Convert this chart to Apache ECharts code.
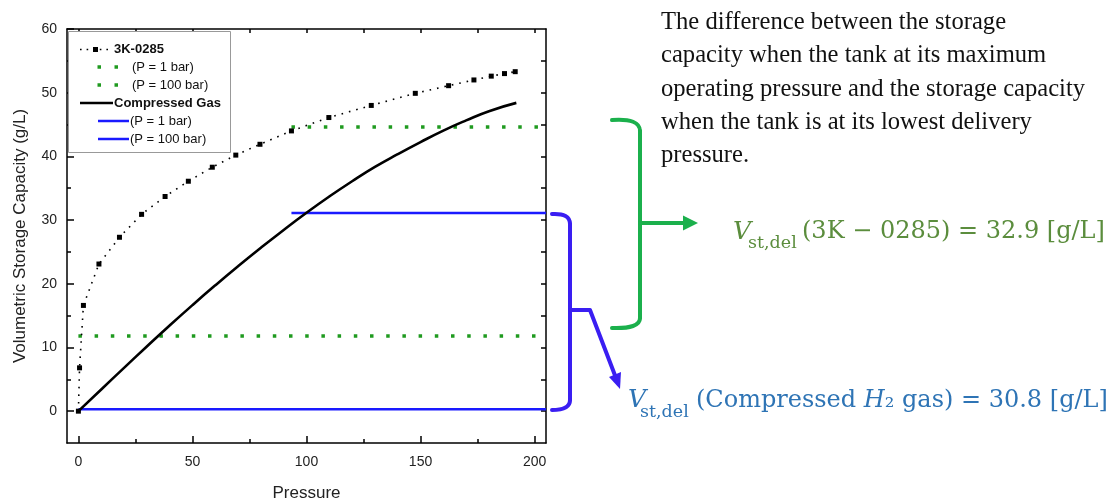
<!DOCTYPE html>
<html><head><meta charset="utf-8">
<script src="https://cdn.jsdelivr.net/npm/echarts@6/dist/echarts.min.js"></script>
<style>html,body{margin:0;padding:0;background:#fff}#c{width:1111px;height:501px}</style>
</head><body><div id="c"></div>
<script>
// ---- data ----
const pressure3K = [0, 0.5, 2.2, 9, 18, 27.7, 38, 48.2, 58.7, 69, 79.6, 93.4, 109.8, 128.4, 147.7, 162.3, 173.4, 181, 186.8, 191.5];
const capacity3K = [0, 6.8, 16.6, 23.1, 27.3, 30.9, 33.7, 36.1, 38.3, 40.2, 41.9, 44.0, 46.1, 48.0, 49.9, 51.1, 52.0, 52.6, 53.0, 53.3];
const pressureGas = [0, 10, 20, 30, 40, 50, 60, 70, 80, 90, 100, 110, 120, 130, 140, 150, 160, 170, 180, 192];
const capacityGas = [0, 3.4, 6.8, 10.15, 13.45, 16.65, 19.75, 22.75, 25.65, 28.45, 31.15, 33.7, 36.1, 38.35, 40.35, 42.25, 44.05, 45.65, 47.1, 48.4];
const greenRanges = [[0, 204], [93.4, 204]];      // pressure span of green dotted levels
const greenLevels = [11.8, 44.6];                  // 3K-0285 at P=1 bar / P=100 bar
const blueRanges = [[0, 205], [93.4, 205]];        // pressure span of blue levels
const blueLevels = [0.3, 31.1];                    // compressed gas at P=1 bar / P=100 bar
const xMajorTicks = [0, 50, 100, 150, 200];
const xMinorTicks = [25, 75, 125, 175];
const xAllTicks = [0, 25, 50, 75, 100, 125, 150, 175, 200];
const yMajorTicks = [0, 10, 20, 30, 40, 50, 60];
const yMinorTicks = [5, 15, 25, 35, 45, 55];
const yAllTicks = [0, 5, 10, 15, 20, 25, 30, 35, 40, 45, 50, 55];
const noteLines = [
  'The difference between the storage',
  'capacity when the tank at its maximum',
  'operating pressure and the storage capacity',
  'when the tank is at its lowest delivery',
  'pressure.'
];

const zip = (a, b) => a.map((v, i) => [v, b[i]]);
const SANS = '"Liberation Sans", Arial, sans-serif';
const SERIF = '"Liberation Serif", "Times New Roman", serif';
const MATH = '"DejaVu Serif", serif';
const axLine = { color: '#000', width: 1.5 };
const GREEN = '#1f9a1f', BLUE = '#1a1aff';

const chart = echarts.init(document.getElementById('c'), null, { renderer: 'canvas' });

const baseX = { type: 'value', min: -5, max: 205, gridIndex: 0, splitLine: { show: false } };
const baseY = { type: 'value', min: -5, max: 60, gridIndex: 0, splitLine: { show: false } };

const option = {
  animation: false,
  backgroundColor: '#fff',
  grid: { left: 67, right: 565, top: 29, bottom: 58, containLabel: false, outerBoundsMode: 'none' },
  xAxis: [
    Object.assign({}, baseX, {
      position: 'bottom',
      axisLine: { show: true, onZero: false, lineStyle: axLine },
      axisTick: { show: true, inside: true, length: 7, customValues: xMajorTicks, lineStyle: axLine },
      axisLabel: { show: true, customValues: xMajorTicks, fontSize: 14, color: '#222', fontFamily: SANS, margin: 12 },
      name: 'Pressure', nameLocation: 'middle', nameGap: 42,
      nameTextStyle: { fontSize: 17, color: '#222', fontFamily: SANS }
    }),
    Object.assign({}, baseX, {
      position: 'bottom',
      axisLine: { show: false, onZero: false },
      axisTick: { show: true, inside: true, length: 4, customValues: xMinorTicks, lineStyle: axLine },
      axisLabel: { show: false }
    }),
    Object.assign({}, baseX, {
      position: 'top',
      axisLine: { show: true, onZero: false, lineStyle: axLine },
      axisTick: { show: true, inside: true, length: 4, customValues: xAllTicks, lineStyle: axLine },
      axisLabel: { show: false }
    })
  ],
  yAxis: [
    Object.assign({}, baseY, {
      position: 'left',
      axisLine: { show: true, onZero: false, lineStyle: axLine },
      axisTick: { show: true, inside: true, length: 7, customValues: yMajorTicks, lineStyle: axLine },
      axisLabel: { show: true, customValues: yMajorTicks, fontSize: 14, color: '#222', fontFamily: SANS, margin: 10 },
      name: 'Volumetric Storage Capacity (g/L)', nameLocation: 'middle', nameGap: 38, nameRotate: 90,
      nameTextStyle: { fontSize: 17, color: '#222', fontFamily: SANS }
    }),
    Object.assign({}, baseY, {
      position: 'left',
      axisLine: { show: false, onZero: false },
      axisTick: { show: true, inside: true, length: 4, customValues: yMinorTicks, lineStyle: axLine },
      axisLabel: { show: false }
    }),
    Object.assign({}, baseY, {
      position: 'right',
      axisLine: { show: true, onZero: false, lineStyle: axLine },
      axisTick: { show: true, inside: true, length: 5, customValues: yAllTicks, lineStyle: axLine },
      axisLabel: { show: false }
    })
  ],
  series: [
    {
      name: 'Compressed Gas (P = 1 bar)', type: 'line', xAxisIndex: 0, yAxisIndex: 0,
      data: [[blueRanges[0][0], blueLevels[0]], [blueRanges[0][1], blueLevels[0]]],
      symbol: 'none', clip: false, lineStyle: { color: BLUE, width: 2.5 }, z: 2
    },
    {
      name: 'Compressed Gas (P = 100 bar)', type: 'line', xAxisIndex: 0, yAxisIndex: 0,
      data: [[blueRanges[1][0], blueLevels[1]], [blueRanges[1][1], blueLevels[1]]],
      symbol: 'none', clip: false, lineStyle: { color: BLUE, width: 2.5 }, z: 2
    },
    {
      name: '3K-0285 (P = 1 bar)', type: 'line', xAxisIndex: 0, yAxisIndex: 0,
      data: [[greenRanges[0][0], greenLevels[0]], [greenRanges[0][1], greenLevels[0]]],
      symbol: 'none', lineStyle: { color: GREEN, width: 3.5, type: [3.5, 12.7] }, z: 3
    },
    {
      name: '3K-0285 (P = 100 bar)', type: 'line', xAxisIndex: 0, yAxisIndex: 0,
      data: [[greenRanges[1][0], greenLevels[1]], [greenRanges[1][1], greenLevels[1]]],
      symbol: 'none', lineStyle: { color: GREEN, width: 3.5, type: [3.5, 12.7] }, z: 3
    },
    {
      name: 'Compressed Gas', type: 'line', xAxisIndex: 0, yAxisIndex: 0,
      data: zip(pressureGas, capacityGas), symbol: 'none', smooth: true,
      lineStyle: { color: '#000', width: 2.6 }, z: 4
    },
    {
      name: '3K-0285', type: 'line', xAxisIndex: 0, yAxisIndex: 0,
      data: zip(pressure3K, capacity3K), symbol: 'rect', symbolSize: 5,
      itemStyle: { color: '#000' },
      lineStyle: { color: '#000', width: 1.6, type: [1.6, 6] }, z: 5
    }
  ],
  graphic: []
};

// ---- legend (drawn) ----
const lg = [];
lg.push({ type: 'rect', shape: { x: 68.5, y: 31.5, width: 162, height: 121 }, style: { fill: '#fff', stroke: '#999', lineWidth: 1 }, z: 50 });
const rows = [49.5, 67, 85, 103, 121, 139];
const lt = (x, y, t, bold) => ({ type: 'text', x: x, y: y, z: 52, style: { text: t, fill: '#111', font: (bold ? 'bold ' : '') + '13px ' + SANS, verticalAlign: 'middle', align: 'left' } });
lg.push({ type: 'line', shape: { x1: 80, y1: rows[0], x2: 112, y2: rows[0] }, style: { stroke: '#000', lineWidth: 1.6, lineDash: [1.6, 5] }, z: 51 });
lg.push({ type: 'rect', shape: { x: 93, y: rows[0] - 2.5, width: 5, height: 5 }, style: { fill: '#000' }, z: 51 });
lg.push(lt(114, rows[0], '3K-0285', true));
[1, 2].forEach(i => {
  lg.push({ type: 'rect', shape: { x: 97.5, y: rows[i] - 1.75, width: 3.5, height: 3.5 }, style: { fill: GREEN }, z: 51 });
  lg.push({ type: 'rect', shape: { x: 114.5, y: rows[i] - 1.75, width: 3.5, height: 3.5 }, style: { fill: GREEN }, z: 51 });
});
lg.push(lt(132, rows[1], '(P = 1 bar)', false));
lg.push(lt(132, rows[2], '(P = 100 bar)', false));
lg.push({ type: 'line', shape: { x1: 80, y1: rows[3], x2: 113, y2: rows[3] }, style: { stroke: '#000', lineWidth: 2.6 }, z: 51 });
lg.push(lt(114, rows[3], 'Compressed Gas', true));
[4, 5].forEach(i => lg.push({ type: 'line', shape: { x1: 98, y1: rows[i], x2: 129, y2: rows[i] }, style: { stroke: BLUE, lineWidth: 2.5 }, z: 51 }));
lg.push(lt(130, rows[4], '(P = 1 bar)', false));
lg.push(lt(130, rows[5], '(P = 100 bar)', false));

// ---- annotations ----
const BR_BLUE = '#3a1ef2', BR_GREEN = '#1bb04c';
const ann = [];
const stroke = (c) => ({ stroke: c, lineWidth: 4, fill: null, lineJoin: 'round', lineCap: 'round' });
const curve = (x1, y1, cx, cy, x2, y2, c) => ({ type: 'bezierCurve', shape: { x1: x1, y1: y1, cpx1: cx, cpy1: cy, x2: x2, y2: y2 }, style: stroke(c), z: 60 });
const pl = (pts, c) => ({ type: 'polyline', shape: { points: pts }, style: stroke(c), z: 60 });
// blue bracket
ann.push(curve(552, 214, 570, 213, 570, 224, BR_BLUE));
ann.push(pl([[570, 224], [570, 400]], BR_BLUE));
ann.push(curve(570, 400, 570, 410, 552, 410, BR_BLUE));
ann.push(pl([[570, 310], [590, 310], [616, 378]], BR_BLUE));
ann.push({ type: 'polygon', shape: { points: [[620, 389], [621, 372], [609, 377]] }, style: { fill: BR_BLUE }, z: 60 });
// green bracket
ann.push(curve(612, 120, 640, 118, 640, 131, BR_GREEN));
ann.push(pl([[640, 131], [640, 318]], BR_GREEN));
ann.push(curve(640, 318, 640, 329, 612, 328, BR_GREEN));
ann.push(pl([[640, 223], [686, 223]], BR_GREEN));
ann.push({ type: 'polygon', shape: { points: [[698, 223], [683, 215.5], [683, 230.5]] }, style: { fill: BR_GREEN }, z: 60 });

ann.push({ type: 'text', x: 661, y: 6, z: 60, style: { text: noteLines.join('\n'), font: '24.6px ' + SERIF, lineHeight: 33.3, fill: '#111', verticalAlign: 'top', align: 'left' } });

const G_TXT = '#5b8d3d', B_TXT = '#2e74b5';
ann.push({ type: 'text', x: 733, y: 232, z: 60, style: { text: 'V', font: 'italic 25px ' + MATH, fill: G_TXT, verticalAlign: 'middle' } });
ann.push({ type: 'text', x: 748, y: 243.5, z: 60, style: { text: 'st,del', font: '17.5px ' + MATH, fill: G_TXT, verticalAlign: 'middle' } });
ann.push({ type: 'text', x: 802, y: 232, z: 60, style: { text: '(3K − 0285) = 32.9 [g/L]', font: '24px ' + MATH, fill: G_TXT, verticalAlign: 'middle' } });

ann.push({ type: 'text', x: 628, y: 400.5, z: 60, style: { text: 'V', font: 'italic 25px ' + MATH, fill: B_TXT, verticalAlign: 'middle' } });
ann.push({ type: 'text', x: 640, y: 412, z: 60, style: { text: 'st,del', font: '17.5px ' + MATH, fill: B_TXT, verticalAlign: 'middle' } });
ann.push({ type: 'text', x: 696, y: 400.5, z: 60, style: { text: '(Compressed {i|H}₂ gas) = 30.8 [g/L]', font: '24px ' + MATH, fill: B_TXT, verticalAlign: 'middle',
  rich: { i: { fontStyle: 'italic', fontSize: 24, fontFamily: MATH, fill: B_TXT } } } });

option.graphic = lg.concat(ann);
chart.setOption(option);
</script></body></html>
